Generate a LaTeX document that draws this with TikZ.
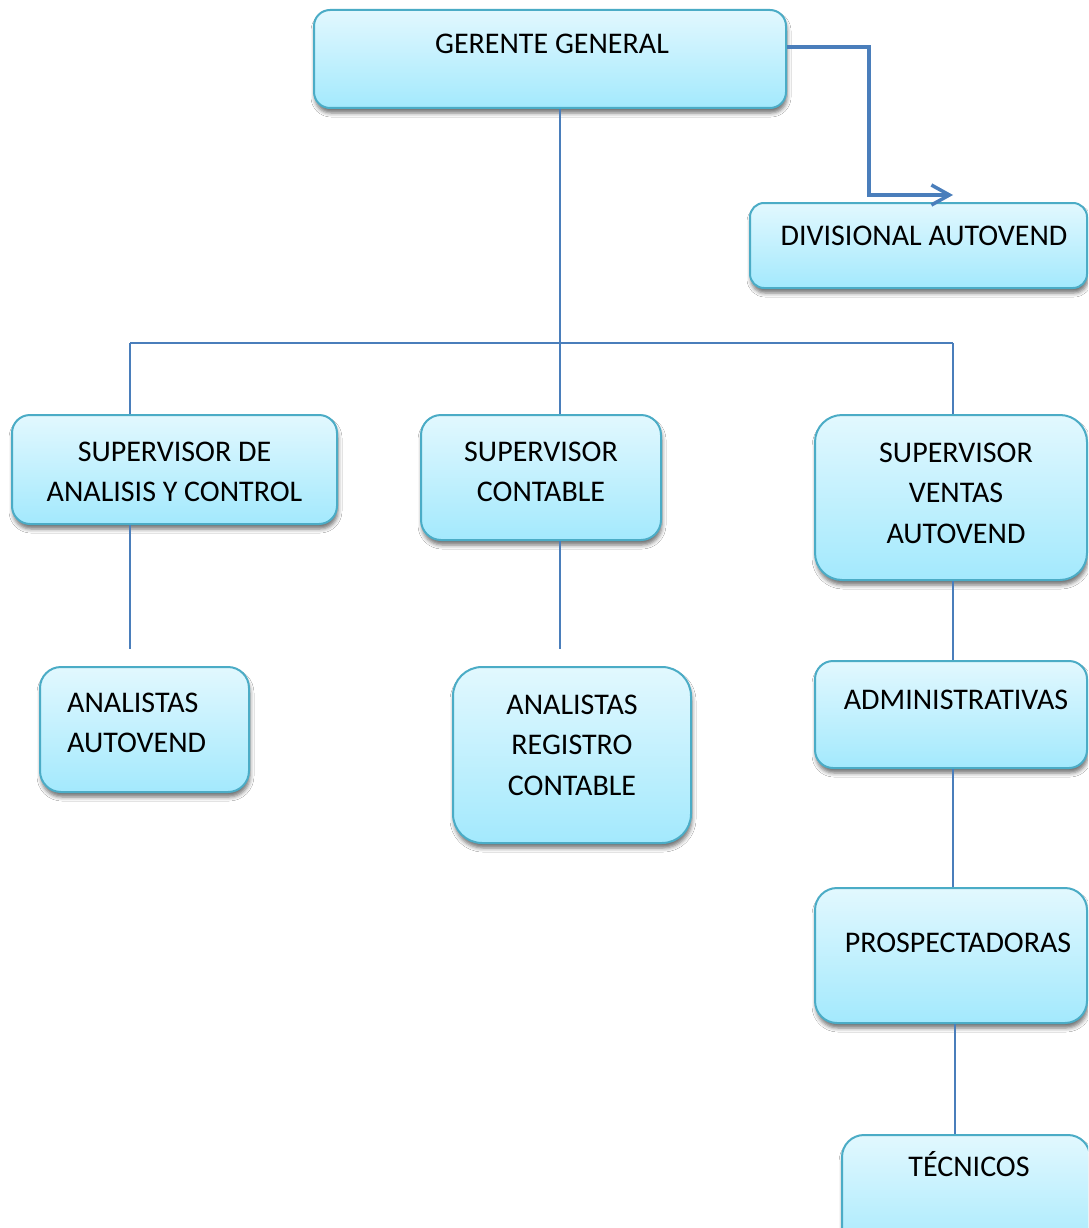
\documentclass[tikz,border=0pt]{standalone}
\usepackage{fontspec}
\setmainfont{Carlito}
\usetikzlibrary{arrows.meta,shadows.blur}

\definecolor{boxtop}{HTML}{E2F8FE}
\definecolor{boxbot}{HTML}{A3E9FD}
\definecolor{boxline}{HTML}{4BACC6}
\definecolor{linkblue}{HTML}{4A7EBB}

\tikzset{
  orgbox/.style={draw=boxline, line width=2pt, top color=boxtop, bottom color=boxbot,
    blur shadow={shadow xshift=1pt, shadow yshift=-5pt, shadow blur radius=4pt, shadow opacity=55}},
  lbl/.style={font=\fontsize{30}{40.5}\selectfont, inner sep=0pt, align=center},
  link/.style={draw=linkblue, line width=2pt},
  mainlink/.style={draw=linkblue, line width=3.5pt},
}

\begin{document}
\begin{tikzpicture}[x=1pt, y=-1pt]
  \useasboundingbox (0,0) rectangle (1088,1228);
  \fill[white] (0,0) rectangle (1088,1228);
  \clip (0,0) rectangle (1088,1228);

  % boxes
  \node[orgbox, rounded corners=16pt, minimum width=472pt, minimum height=98pt] (gg) at (550,59) {};
  \node[orgbox, rounded corners=14pt, minimum width=337pt, minimum height=85pt] (div) at (918.5,245.5) {};
  \node[orgbox, rounded corners=18pt, minimum width=325pt, minimum height=109pt] (sac) at (174.5,469.5) {};
  \node[orgbox, rounded corners=20pt, minimum width=240pt, minimum height=125pt] (sc) at (541,477.5) {};
  \node[orgbox, rounded corners=27pt, minimum width=272pt, minimum height=165pt] (sv) at (951,497.5) {};
  \node[orgbox, rounded corners=21pt, minimum width=209pt, minimum height=125pt] (aa) at (144.5,729.5) {};
  \node[orgbox, rounded corners=29pt, minimum width=238pt, minimum height=176pt] (arc) at (572,755) {};
  \node[orgbox, rounded corners=18pt, minimum width=272pt, minimum height=107pt] (adm) at (951,714.5) {};
  \node[orgbox, rounded corners=22pt, minimum width=272pt, minimum height=135pt] (pro) at (951,955.5) {};
  \node[orgbox, rounded corners=22pt, minimum width=248pt, minimum height=125pt] (tec) at (966,1197.5) {};

  % texts
  \node[lbl, anchor=base] (gg-t) at (552,54) {GERENTE GENERAL};
  \node[lbl, anchor=base] (div-t) at (924,245) {DIVISIONAL AUTOVEND};
  \node[lbl, anchor=north] (sac-t) at (174.5,441.5) {SUPERVISOR DE\\ANALISIS Y CONTROL};
  \node[lbl, anchor=north] (sc-t) at (541,441.5) {SUPERVISOR\\CONTABLE};
  \node[lbl, anchor=north] (sv-t) at (956,442.5) {SUPERVISOR\\VENTAS\\AUTOVEND};
  \node[lbl, anchor=north west, align=left] (aa-t) at (67,692.5) {ANALISTAS\\AUTOVEND};
  \node[lbl, anchor=north] (arc-t) at (572,694.5) {ANALISTAS\\REGISTRO\\CONTABLE};
  \node[lbl, anchor=base] (adm-t) at (956,709) {ADMINISTRATIVAS};
  \node[lbl, anchor=base] (pro-t) at (958,952) {PROSPECTADORAS};
  \node[lbl, anchor=base] (tec-t) at (969,1176) {TÉCNICOS};

  % connectors
  \coordinate (trunk) at (560,343);
  \coordinate (busL) at (130,343);
  \coordinate (busR) at (953,343);
  \draw[link] (gg.south -| trunk) -- (sc.north -| trunk);
  \draw[link] (busL) -- (busR);
  \draw[link] (busL) -- (sac.north -| busL);
  \draw[link] (busR) -- (sv.north -| busR);

  \coordinate (aaEnd) at (130,649);
  \draw[link] (sac.south -| aaEnd) -- (aaEnd);
  \coordinate (arcEnd) at (560,649);
  \draw[link] (sc.south -| arcEnd) -- (arcEnd);

  \coordinate (colA) at (953,0);
  \coordinate (colB) at (954.5,0);
  \draw[link] (sv.south -| colA) -- (adm.north -| colA);
  \draw[link] (adm.south -| colA) -- (pro.north -| colA);
  \draw[link] (pro.south -| colB) -- (tec.north -| colB);

  % arrow towards the divisional unit
  \coordinate (elbow) at (869,47);
  \coordinate (divIn) at (953,195);
  \draw[mainlink, -{Straight Barb[length=18pt, width=20pt]}]
    (gg.east |- elbow) -- (elbow) |- (divIn);
\end{tikzpicture}
\end{document}
